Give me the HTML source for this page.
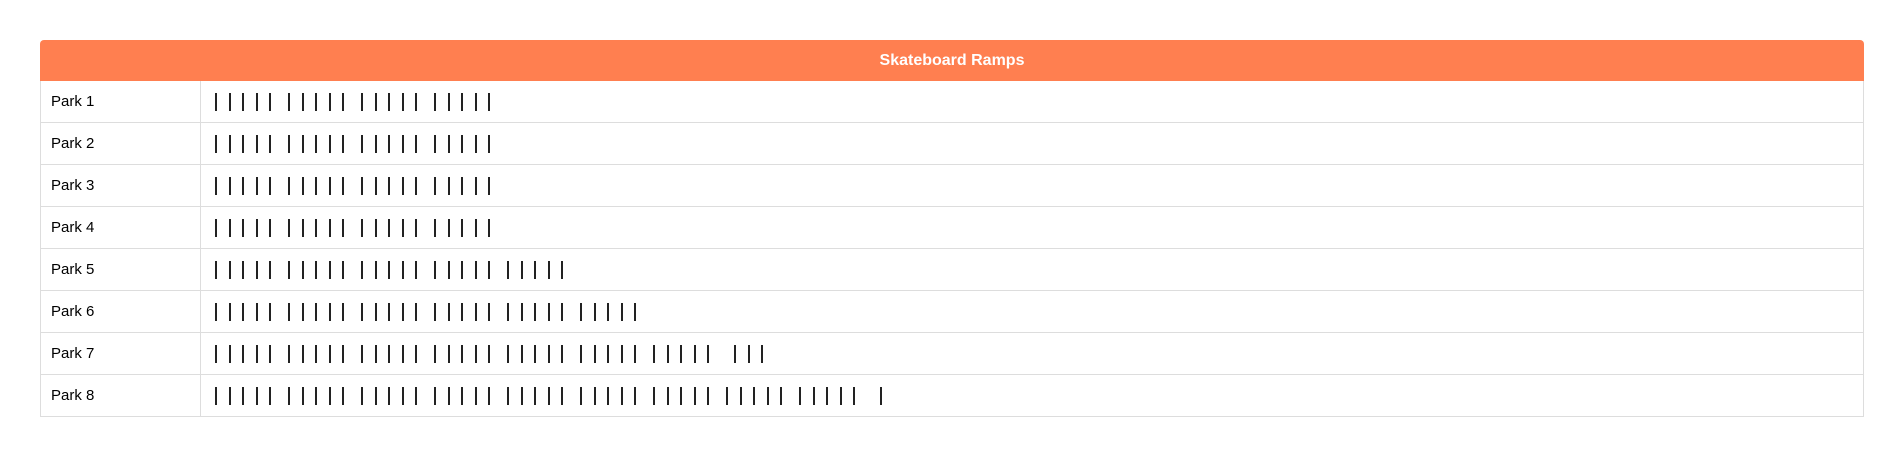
<!DOCTYPE html>
<html><head><meta charset="utf-8"><style>
body{margin:0;width:1904px;height:458px;background:#fff;font-family:"Liberation Sans",sans-serif;position:relative;overflow:hidden}
#tbl{position:absolute;left:40px;top:40px;width:1824px}
#hdr{height:41px;background:#ff7f50;border-radius:4px 4px 0 0;color:#fff;font-weight:bold;font-size:16px;line-height:41px;text-align:center}
.row{position:relative;height:42px;border:1px solid #ddd;border-top:none;box-sizing:border-box}
.lab{position:absolute;left:10px;top:0;line-height:41px;font-size:15px;color:#000}
.div{position:absolute;left:159px;top:0;bottom:0;width:1px;background:#ddd}
.tk{position:absolute;top:12px;width:2px;height:18px;background:#222}
</style></head><body>
<div id="tbl">
<div id="hdr">Skateboard Ramps</div>
<div id="rows"></div>
</div>
<script>
const parks=["Park 1","Park 2","Park 3","Park 4","Park 5","Park 6","Park 7","Park 8"];
const counts=[20,20,20,20,25,30,38,46];
const rows=document.getElementById('rows');
parks.forEach((p,i)=>{
  const r=document.createElement('div');r.className='row';
  
  
  const l=document.createElement('div');l.className='lab';l.textContent=p;
  
  
  r.appendChild(l);
  const d=document.createElement('div');d.className='div';r.appendChild(d);
  const full=Math.floor(counts[i]/5);
  for(let k=0;k<counts[i];k++){
    const t=document.createElement('div');t.className='tk';
    
    
    const g=Math.floor(k/5),j=k%5;
    const extra=g>=full?8:0;
    t.style.left=(174+g*73+j*13.6+extra)+'px';
    r.appendChild(t);
  }
  rows.appendChild(r);
});
</script>
</body></html>
